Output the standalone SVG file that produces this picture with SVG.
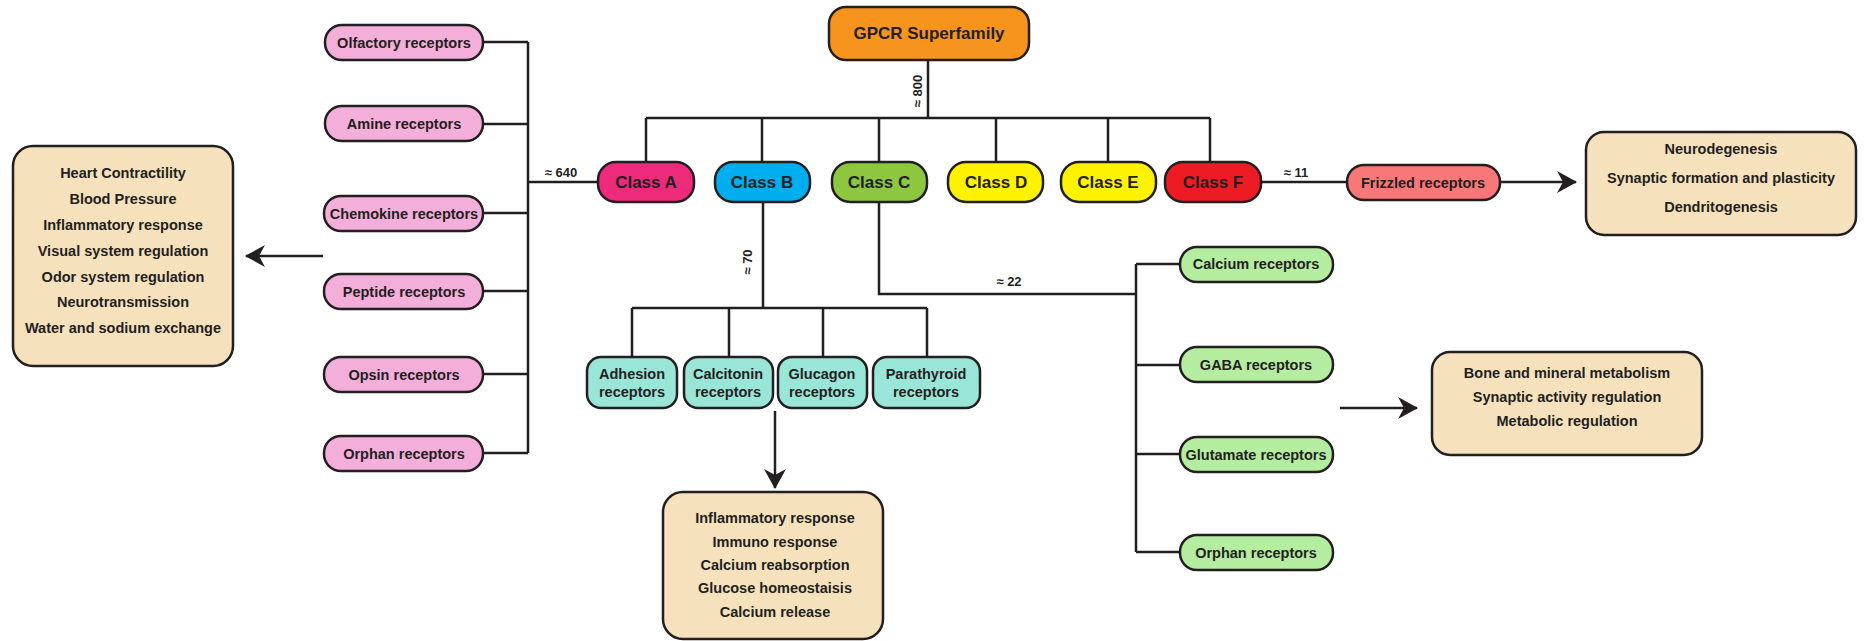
<svg xmlns="http://www.w3.org/2000/svg" width="1866" height="641" viewBox="0 0 1866 641">
<defs>
<style>
.box{stroke:#231F20;stroke-width:2.5}
.t{font-family:"Liberation Sans",Arial,sans-serif;font-weight:bold;fill:#231F20;text-anchor:middle}
.s{font-size:14.5px}
.l{font-size:17px}
.n{font-size:13px}
.ln{fill:none;stroke:#231F20;stroke-width:2.5}
.pink{fill:#F4AEDA}
.teal{fill:#99E6D8}
.green{fill:#B5EDA0}
.res{fill:#F5E2BD}
</style>
<marker id="ah" viewBox="0 0 20 22" refX="19" refY="11" markerWidth="20" markerHeight="22" markerUnits="userSpaceOnUse" orient="auto">
<path d="M0,0 L20,11 L0,22 L6,11 Z" fill="#231F20"/>
</marker>
</defs>
<rect width="1866" height="641" fill="#fff"/>

<g id="connectors">
<path class="ln" d="M928,60 V118 M646,118 H1210 M646,118 V162 M762,118 V162 M879,118 V162 M996,118 V162 M1108,118 V162 M1210,118 V162"/>
<path class="ln" d="M597,182 H528 M528,42 V453 M483,42 H528 M483,124 H528 M483,213 H528 M483,291 H528 M483,374 H528 M483,453 H528"/>
<path class="ln" d="M1261,182 H1347"/>
<path class="ln" d="M763,202 V308 M632,308 H927 M632,308 V357 M729,308 V357 M823,308 V357 M927,308 V357"/>
<path class="ln" d="M879,202 V294 H1136 M1136,264 V552 M1136,264 H1180 M1136,365 H1180 M1136,454 H1180 M1136,552 H1180"/>
<path class="ln" d="M323,256 H246" marker-end="url(#ah)"/>
<path class="ln" d="M1500,182 H1576" marker-end="url(#ah)"/>
<path class="ln" d="M775,411 V488" marker-end="url(#ah)"/>
<path class="ln" d="M1340,408 H1417" marker-end="url(#ah)"/>
<text class="t n" transform="translate(922,91) rotate(-90)">≈ 800</text>
<text class="t n" transform="translate(752,262) rotate(-90)">≈ 70</text>
<text class="t n" x="561" y="177">≈ 640</text>
<text class="t n" x="1296" y="177">≈ 11</text>
<text class="t n" x="1009" y="286">≈ 22</text>
</g>

<g id="gpcr"><rect class="box" x="829" y="7" width="200" height="53" rx="17" fill="#F7941D"/><text class="t l" x="929" y="39">GPCR Superfamily</text></g>

<g id="classA"><rect class="box" x="598" y="162" width="96" height="40" rx="18" fill="#EE2A7B"/><text class="t l" x="646" y="188">Class A</text></g>
<g id="classB"><rect class="box" x="715" y="162" width="95" height="40" rx="18" fill="#00AEEF"/><text class="t l" x="762" y="188">Class B</text></g>
<g id="classC"><rect class="box" x="832" y="162" width="95" height="40" rx="18" fill="#8DC63F"/><text class="t l" x="879" y="188">Class C</text></g>
<g id="classD"><rect class="box" x="948" y="162" width="95" height="40" rx="18" fill="#FFF200"/><text class="t l" x="996" y="188">Class D</text></g>
<g id="classE"><rect class="box" x="1061" y="162" width="95" height="40" rx="18" fill="#FFF200"/><text class="t l" x="1108" y="188">Class E</text></g>
<g id="classF"><rect class="box" x="1165" y="162" width="96" height="40" rx="18" fill="#ED1C24"/><text class="t l" x="1213" y="188">Class F</text></g>

<g id="olfactory"><rect class="box pink" x="325" y="25" width="158" height="35" rx="17"/><text class="t s" x="404" y="48">Olfactory receptors</text></g>
<g id="amine"><rect class="box pink" x="325" y="106" width="158" height="35" rx="17"/><text class="t s" x="404" y="129">Amine receptors</text></g>
<g id="chemokine"><rect class="box pink" x="324" y="196" width="159" height="35" rx="17"/><text class="t s" x="404" y="219">Chemokine receptors</text></g>
<g id="peptide"><rect class="box pink" x="324" y="274" width="159" height="35" rx="17"/><text class="t s" x="404" y="297">Peptide receptors</text></g>
<g id="opsin"><rect class="box pink" x="324" y="357" width="159" height="35" rx="17"/><text class="t s" x="404" y="380">Opsin receptors</text></g>
<g id="orphanA"><rect class="box pink" x="324" y="436" width="159" height="35" rx="17"/><text class="t s" x="404" y="459">Orphan receptors</text></g>

<g id="classA-functions"><rect class="box res" x="13" y="146" width="220" height="220" rx="20"/>
<text class="t s" x="123" y="178">Heart Contractility</text>
<text class="t s" x="123" y="204">Blood Pressure</text>
<text class="t s" x="123" y="230">Inflammatory response</text>
<text class="t s" x="123" y="256">Visual system regulation</text>
<text class="t s" x="123" y="282">Odor system regulation</text>
<text class="t s" x="123" y="307">Neurotransmission</text>
<text class="t s" x="123" y="333">Water and sodium exchange</text>
</g>

<g id="frizzled"><rect class="box" x="1347" y="165" width="153" height="35" rx="17" fill="#F87779"/><text class="t s" x="1423" y="188">Frizzled receptors</text></g>
<g id="classF-functions"><rect class="box res" x="1586" y="132" width="270" height="103" rx="18"/>
<text class="t s" x="1721" y="154">Neurodegenesis</text>
<text class="t s" x="1721" y="183">Synaptic formation and plasticity</text>
<text class="t s" x="1721" y="212">Dendritogenesis</text>
</g>

<g id="adhesion"><rect class="box teal" x="587" y="357" width="90" height="51" rx="14"/><text class="t s" x="632" y="379">Adhesion</text><text class="t s" x="632" y="397">receptors</text></g>
<g id="calcitonin"><rect class="box teal" x="684" y="357" width="89" height="51" rx="14"/><text class="t s" x="728" y="379">Calcitonin</text><text class="t s" x="728" y="397">receptors</text></g>
<g id="glucagon"><rect class="box teal" x="778" y="357" width="89" height="51" rx="14"/><text class="t s" x="822" y="379">Glucagon</text><text class="t s" x="822" y="397">receptors</text></g>
<g id="parathyroid"><rect class="box teal" x="873" y="357" width="107" height="51" rx="14"/><text class="t s" x="926" y="379">Parathyroid</text><text class="t s" x="926" y="397">receptors</text></g>

<g id="classB-functions"><rect class="box res" x="663" y="492" width="220" height="147" rx="20"/>
<text class="t s" x="775" y="523">Inflammatory response</text>
<text class="t s" x="775" y="547">Immuno response</text>
<text class="t s" x="775" y="570">Calcium reabsorption</text>
<text class="t s" x="775" y="593">Glucose homeostaisis</text>
<text class="t s" x="775" y="617">Calcium release</text>
</g>

<g id="calcium"><rect class="box green" x="1180" y="247" width="153" height="35" rx="17"/><text class="t s" x="1256" y="269">Calcium receptors</text></g>
<g id="gaba"><rect class="box green" x="1180" y="347" width="153" height="35" rx="17"/><text class="t s" x="1256" y="370">GABA receptors</text></g>
<g id="glutamate"><rect class="box green" x="1180" y="437" width="153" height="35" rx="17"/><text class="t s" x="1256" y="460">Glutamate receptors</text></g>
<g id="orphanC"><rect class="box green" x="1180" y="535" width="153" height="35" rx="17"/><text class="t s" x="1256" y="558">Orphan receptors</text></g>

<g id="classC-functions"><rect class="box res" x="1432" y="352" width="270" height="103" rx="18"/>
<text class="t s" x="1567" y="378">Bone and mineral metabolism</text>
<text class="t s" x="1567" y="402">Synaptic activity regulation</text>
<text class="t s" x="1567" y="426">Metabolic regulation</text>
</g>
</svg>
